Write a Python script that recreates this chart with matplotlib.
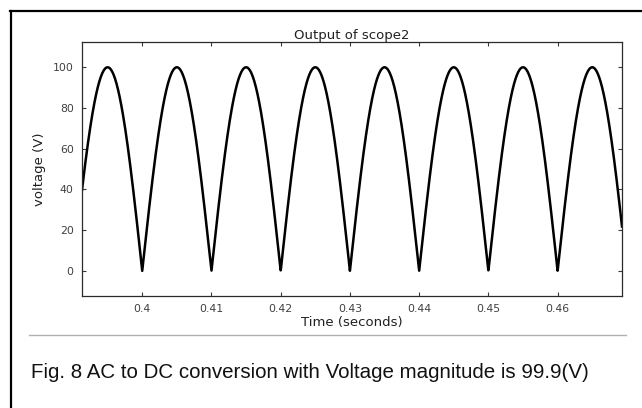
import numpy as np
import matplotlib
matplotlib.use("Agg")
import matplotlib.pyplot as plt
from matplotlib.lines import Line2D

# Signal parameters (full-wave rectified 50 Hz sine)
amplitude_v = 99.9
frequency_hz = 50.0
t_start = 0.3913
t_end = 0.4693

x_ticks = [0.40, 0.41, 0.42, 0.43, 0.44, 0.45, 0.46]
x_tick_labels = ["0.4", "0.41", "0.42", "0.43", "0.44", "0.45", "0.46"]
y_ticks = [0, 20, 40, 60, 80, 100]
y_tick_labels = ["0", "20", "40", "60", "80", "100"]

title = "Output of scope2"
x_label = "Time (seconds)"
y_label = "voltage (V)"
caption = "Fig. 8 AC to DC conversion with Voltage magnitude is 99.9(V)"

t = np.linspace(t_start, t_end, 4000)
v = amplitude_v * np.abs(np.sin(2 * np.pi * frequency_hz * t))

W, H = 642, 408
fig = plt.figure(figsize=(W / 100, H / 100), dpi=100)
fig.patch.set_facecolor("white")

ax = fig.add_axes([82 / W, 1 - 296 / H, (622 - 82) / W, (296 - 42) / H])
ax.plot(t, v, color="black", lw=1.8)
ax.set_xlim(t_start, t_end)
ax.set_ylim(-12.3, 112.3)
ax.set_xticks(x_ticks)
ax.set_xticklabels(x_tick_labels)
ax.set_yticks(y_ticks)
ax.set_yticklabels(y_tick_labels)

tick_color = "#3a3a3a"
ax.tick_params(direction="in", length=3, width=0.8, top=True, right=True,
               colors=tick_color, labelsize=7.8, pad=6)
for lbl in ax.get_xticklabels() + ax.get_yticklabels():
    lbl.set_color("#404040")
for s in ax.spines.values():
    s.set_color("#2a2a2a")
    s.set_linewidth(0.9)

ax.set_title(title, fontsize=9.5, color="#202020", pad=2)
ax.set_xlabel(x_label, fontsize=9.5, color="#202020", labelpad=1)
ax.set_ylabel(y_label, fontsize=9.5, color="#202020", labelpad=5)

# outer frame (top and left only) and separator
fig.add_artist(Line2D([10 / W, 1.0], [1 - 11 / H, 1 - 11 / H], color="black", lw=1.6,
                      transform=fig.transFigure))
fig.add_artist(Line2D([11 / W, 11 / W], [1 - 11 / H, 0.0], color="black", lw=1.6,
                      transform=fig.transFigure))
fig.add_artist(Line2D([29 / W, 626 / W], [1 - 335 / H, 1 - 335 / H], color="#b0b0b0", lw=1.0,
                      transform=fig.transFigure))

fig.text(31 / W, 1 - 372 / H, caption, fontsize=14.8, color="#111111",
         family=["Liberation Sans Narrow", "Liberation Sans", "DejaVu Sans"],
         va="center", ha="left")

fig.savefig("out.png", dpi=100, facecolor="white")
